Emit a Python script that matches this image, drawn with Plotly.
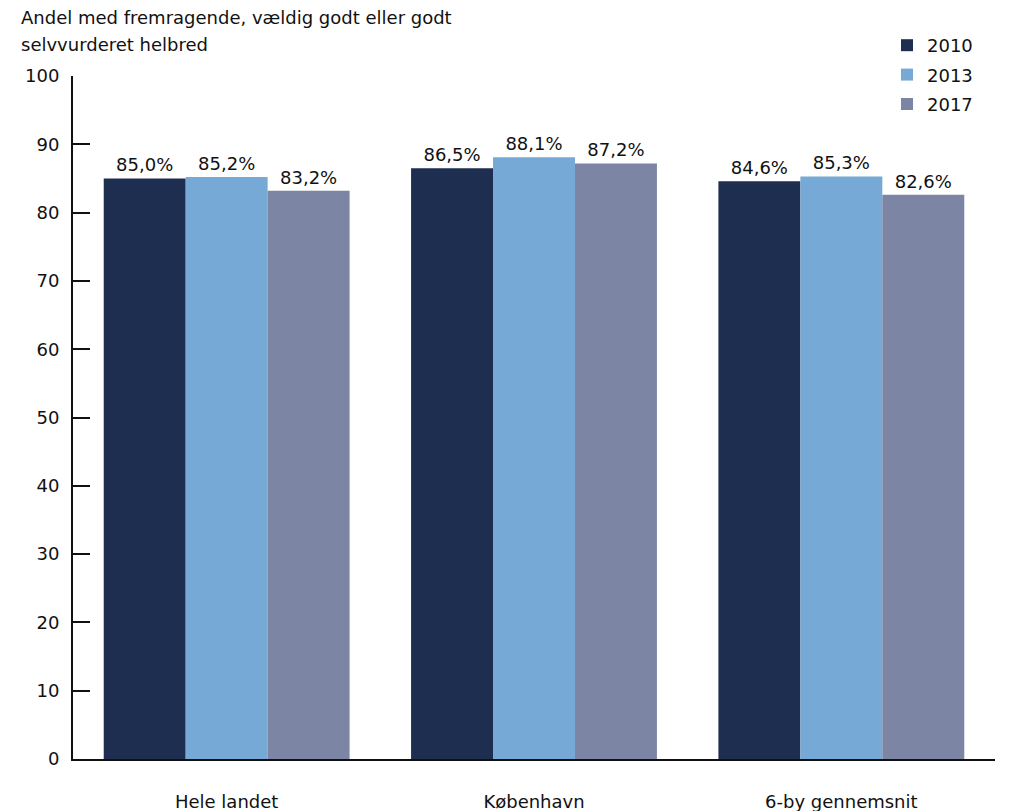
import plotly.graph_objects as go

categories = ["Hele landet", "København", "6-by gennemsnit"]
years = ["2010", "2013", "2017"]
values_2010 = [85.0, 86.5, 84.6]
values_2013 = [85.2, 88.1, 85.3]
values_2017 = [83.2, 87.2, 82.6]
series = [values_2010, values_2013, values_2017]
colors = ["#1e2e51", "#77a9d6", "#7c85a4"]
y_ticks = list(range(0, 101, 10))
title_lines = ["Andel med fremragende, vældig godt eller godt", "selvvurderet helbred"]

FONT = "DejaVu Sans, sans-serif"
FS = 18

L, R, T, B = 73, 14, 76, 52
W, H = 1009, 811
PW, PH = W - L - R, H - T - B

def px_x(x):
    return (x - L) / PW

def px_y(y):
    return (H - B - y) / PH

fig = go.Figure()
for yr, vals, c in zip(years, series, colors):
    fig.add_trace(go.Bar(
        x=categories, y=vals, name=yr, legendgroup=yr,
        marker=dict(color=c, line=dict(width=0)),
        text=[f"{v:.1f}%".replace(".", ",") for v in vals],
        textposition="outside", cliponaxis=False,
        textfont=dict(size=FS, color="#111111", family=FONT),
    ))

annotations = []
for i, line in enumerate(title_lines):
    annotations.append(dict(text=line, x=px_x(19), y=px_y(18 + 27 * i), xref="paper", yref="paper",
                            showarrow=False, align="left", xanchor="left", yanchor="middle",
                            font=dict(size=FS, family=FONT, color="#111111")))

fig.update_layout(
    width=W, height=H,
    margin=dict(l=L, r=R, t=T, b=B, autoexpand=False),
    paper_bgcolor="white", plot_bgcolor="white",
    barmode="group", bargap=0.2, bargroupgap=0,
    font=dict(family=FONT, size=FS, color="#111111"),
    showlegend=True,
    legend=dict(x=px_x(887), y=px_y(27), xanchor="left", yanchor="top",
                font=dict(size=FS, family=FONT), tracegroupgap=3,
                bgcolor="rgba(0,0,0,0)"),
    xaxis=dict(showline=True, linecolor="#111111", linewidth=2, ticks="",
               showgrid=False, ticklabelstandoff=25, automargin=False,
               tickfont=dict(size=FS, family=FONT)),
    yaxis=dict(range=[0, 100], tickvals=y_ticks, showline=True, linecolor="#111111",
               linewidth=2, ticks="inside", ticklen=17, tickwidth=2, tickcolor="#111111",
               showgrid=False, zeroline=False, ticklabelstandoff=8, automargin=False,
               tickfont=dict(size=FS, family=FONT)),
    annotations=annotations,
)

fig.write_html("out.html", config={"displayModeBar": False},
               post_script="document.body.style.margin='0';document.body.style.padding='0';")
